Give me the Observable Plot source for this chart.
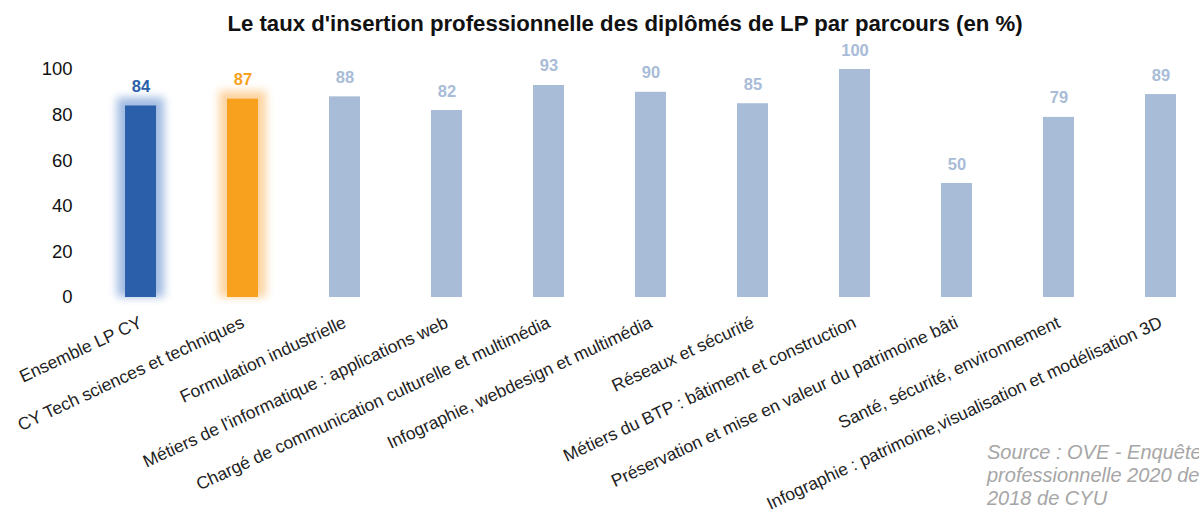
<!DOCTYPE html>
<html><head><meta charset="utf-8">
<script src="https://cdn.jsdelivr.net/npm/d3@7"></script>
<script src="https://cdn.jsdelivr.net/npm/@observablehq/plot@0.6"></script>
<style>
html,body{margin:0;padding:0;background:#fff;overflow:hidden;width:1199px;height:512px;}
body{position:relative;font-family:"Liberation Sans",Arial,sans-serif;}
#title{position:absolute;left:0;top:11px;width:1250px;text-align:center;font-weight:bold;font-size:22.2px;color:#111;}
#chart{position:absolute;left:0;top:48px;}
#source{position:absolute;left:987px;top:441px;font-style:italic;font-size:20px;line-height:23px;color:#a6a6a6;white-space:nowrap;}
</style></head>
<body>
<div id="title">Le taux d'insertion professionnelle des diplômés de LP par parcours (en %)</div>
<div id="chart"></div>
<div id="source">Source : OVE - Enquête d'insertion<br>professionnelle 2020 des diplômés de LP<br>2018 de CYU</div>
<script>
const categories = [
  "Ensemble LP CY",
  "CY Tech sciences et techniques",
  "Formulation industrielle",
  "Métiers de l'informatique : applications web",
  "Chargé de communication culturelle et multimédia",
  "Infographie, webdesign et multimédia",
  "Réseaux et sécurité",
  "Métiers du BTP : bâtiment et construction",
  "Préservation et mise en valeur du patrimoine bâti",
  "Santé, sécurité, environnement",
  "Infographie : patrimoine,visualisation et modélisation 3D"
];
const values = [84, 87, 88, 82, 93, 90, 85, 100, 50, 79, 89];
const groups = ["ensemble", "cytech", "lp", "lp", "lp", "lp", "lp", "lp", "lp", "lp", "lp"];
const groupColors = {ensemble: "#2b5fa9", cytech: "#f8a11e", lp: "#a8bcd7"};
const glowColors = {ensemble: "#8aaadb", cytech: "#fdc98a"};
const yTicks = [0, 20, 40, 60, 80, 100];

const data = categories.map((c, i) => ({category: c, value: values[i], group: groups[i]}));
const glowData = data.filter(d => glowColors[d.group]);

const chart = Plot.plot({
  width: 1199,
  height: 464,
  marginLeft: 89,
  marginRight: 0,
  marginTop: 21,
  marginBottom: 215,
  style: {fontFamily: "'Liberation Sans', Arial, sans-serif", overflow: "visible"},
  x: {domain: categories, range: [89, 1212], paddingInner: 0.696, paddingOuter: 0.353, round: false, label: null},
  y: {domain: [0, 100], label: null},
  marks: [
    Plot.gridY(yTicks, {stroke: "#d9d9d9", strokeOpacity: 1, strokeWidth: 2, x1: 89, x2: 1250}),
    Plot.barY(glowData, {x: "category", y: "value", fill: d => glowColors[d.group], insetLeft: -8, insetRight: -8, insetTop: -8, fillOpacity: 0.8}),
    Plot.barY(data, {x: "category", y: "value", fill: d => groupColors[d.group]}),
    Plot.text(data, {x: "category", y: "value", text: d => String(d.value), fill: d => groupColors[d.group], fontWeight: "bold", fontSize: 16.5, lineAnchor: "bottom", dy: -14}),
    Plot.axisY(yTicks, {tickSize: 0, tickPadding: 17, fontSize: 18.5, fill: "#111", label: null}),
    Plot.axisX({tickSize: 0, tickPadding: 24, tickRotate: -25, fontSize: 17.5, fill: "#222", label: null})
  ]
});
document.getElementById("chart").appendChild(chart);
// soften the highlight rectangles into a glow
const barGroups = chart.querySelectorAll('g[aria-label="bar"]');
if (barGroups.length) barGroups[0].setAttribute("style", "filter: blur(4px)");
</script>
</body></html>
